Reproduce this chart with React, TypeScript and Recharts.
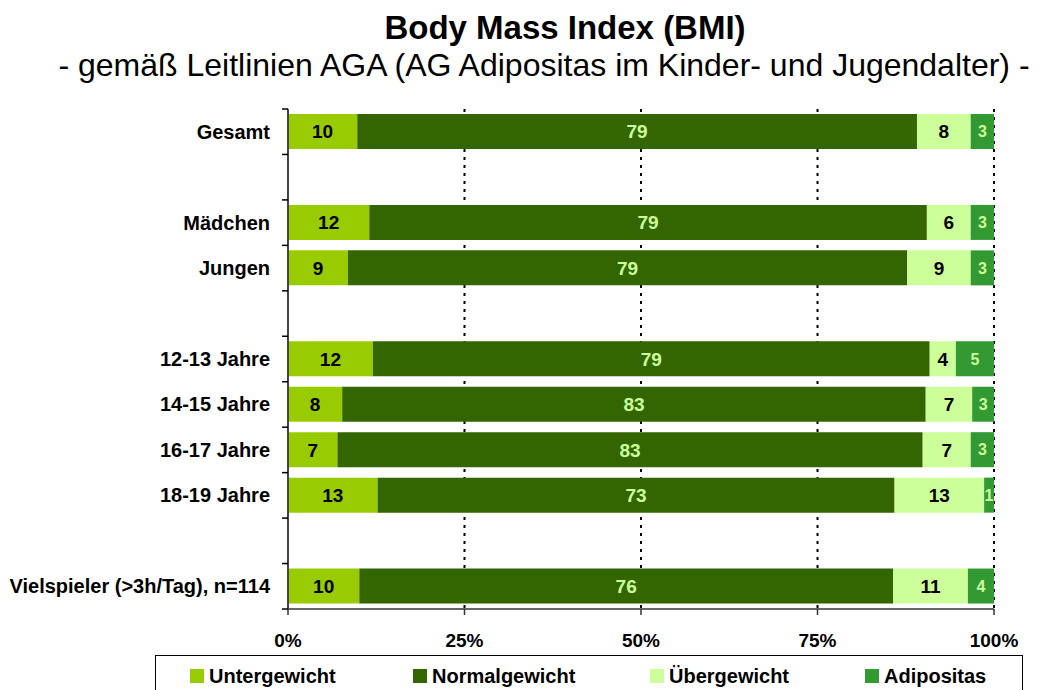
import {
  Bar,
  BarChart,
  CartesianGrid,
  LabelList,
  Legend,
  XAxis,
  YAxis,
} from "recharts";

const categories = [
  "Gesamt",
  "",
  "Mädchen",
  "Jungen",
  "",
  "12-13 Jahre",
  "14-15 Jahre",
  "16-17 Jahre",
  "18-19 Jahre",
  "",
  "Vielspieler (>3h/Tag), n=114",
];
const untergewicht = [9.8, 0, 11.5, 8.5, 0, 12.0, 7.7, 7.0, 12.7, 0, 10.1];
const normalgewicht = [79.2, 0, 78.9, 79.3, 0, 78.8, 82.9, 82.9, 73.3, 0, 75.6];
const uebergewicht = [7.6, 0, 6.2, 9.0, 0, 3.7, 6.6, 6.8, 12.7, 0, 10.6];
const adipositas = [3.3, 0, 3.3, 3.3, 0, 5.4, 3.1, 3.3, 1.4, 0, 3.7];
const xTicks = [0, 0.25, 0.5, 0.75, 1];

const data = categories.map((name, i) => ({
  name,
  untergewicht: untergewicht[i],
  normalgewicht: normalgewicht[i],
  uebergewicht: uebergewicht[i],
  adipositas: adipositas[i],
}));

const FONT = "'Liberation Sans', Arial, sans-serif";
const W = 1042;
const H = 690;
const MARGIN = { top: 109, right: 48, bottom: 41, left: 0 };
const X_AXIS_H = 40;
const PLOT_H = H - MARGIN.top - MARGIN.bottom - X_AXIS_H;
const HALF_BAND = PLOT_H / categories.length / 2;

const series = [
  { key: "untergewicht", name: "Untergewicht", fill: "#99CC00", text: "#000000", size: 19, legendW: 223 },
  { key: "normalgewicht", name: "Normalgewicht", fill: "#336600", text: "#CCFF99", size: 19, legendW: 237 },
  { key: "uebergewicht", name: "Übergewicht", fill: "#CCFF99", text: "#000000", size: 19, legendW: 215 },
  { key: "adipositas", name: "Adipositas", fill: "#339933", text: "#CCFF99", size: 16, legendW: 150 },
];

const makeLabel = (color: string, size: number) => (props: any) => {
  const vb = props.viewBox ?? props;
  const { value } = props;
  if (!value) return null;
  return (
    <text
      x={vb.x + vb.width / 2}
      y={vb.y + vb.height / 2}
      dy="0.36em"
      textAnchor="middle"
      fill={color}
      fontSize={size}
      fontWeight="bold"
      fontFamily={FONT}
    >
      {Math.round(value)}
    </text>
  );
};

const CategoryTick = (props: any) => {
  const { x, y, payload, index } = props;
  return (
    <g>
      <line x1={x - 6} x2={x} y1={y - HALF_BAND} y2={y - HALF_BAND} stroke="#000" strokeWidth={1.5} />
      {index === categories.length - 1 && (
        <line x1={x - 6} x2={x} y1={y + HALF_BAND} y2={y + HALF_BAND} stroke="#000" strokeWidth={1.5} />
      )}
      <text
        x={x - 18}
        y={y + 7}
        textAnchor="end"
        fill="#000"
        fontSize={20}
        fontWeight="bold"
        fontFamily={FONT}
      >
        {payload.value}
      </text>
    </g>
  );
};

const PercentTick = (props: any) => {
  const { x, y, payload } = props;
  return (
    <text
      x={x}
      y={y + 32}
      textAnchor="middle"
      fill="#000"
      fontSize={19}
      fontWeight="bold"
      fontFamily={FONT}
    >
      {`${Math.round(payload.value * 100)}%`}
    </text>
  );
};

// legend keeps the series order (recharts would sort it by name)
const renderLegend = () => (
  <div
    style={{
      boxSizing: "border-box",
      width: 868,
      height: 45,
      border: "1.5px solid #000",
      background: "#fff",
      display: "flex",
      alignItems: "flex-start",
      paddingLeft: 34,
      paddingTop: 11,
      fontFamily: FONT,
      fontWeight: "bold",
      fontSize: 20,
    }}
  >
    {series.map((s) => (
      <div
        key={s.key}
        style={{ display: "flex", alignItems: "center", width: s.legendW, flex: "none", lineHeight: "18px" }}
      >
        <span style={{ width: 14, height: 14, background: s.fill, marginRight: 5 }} />
        <span>{s.name}</span>
      </div>
    ))}
  </div>
);

export default function App() {
  return (
    <div style={{ position: "relative", width: W, height: H, overflow: "hidden", background: "#fff" }}>
      <style>{"body{margin:0}"}</style>
      <svg width={W} height={100} style={{ position: "absolute", left: 0, top: 0 }}>
        <text x={565} y={39} textAnchor="middle" fontSize={33} fontWeight="bold" fontFamily={FONT}>
          Body Mass Index (BMI)
        </text>
        <text x={544} y={76} textAnchor="middle" fontSize={32} fontFamily={FONT}>
          - gemäß Leitlinien AGA (AG Adipositas im Kinder- und Jugendalter) -
        </text>
      </svg>
      <BarChart
        width={W}
        height={H}
        data={data}
        layout="vertical"
        stackOffset="expand"
        margin={MARGIN}
        style={{ position: "absolute", left: 0, top: 0 }}
      >
        <CartesianGrid horizontal={false} stroke="#000" strokeWidth={2} strokeDasharray="3 5" />
        <XAxis
          type="number"
          domain={[0, 1]}
          ticks={xTicks}
          height={X_AXIS_H}
          stroke="#333"
          strokeWidth={1.5}
          tickSize={6}
          tickMargin={0}
          tick={<PercentTick />}
          interval={0}
        />
        <YAxis
          type="category"
          dataKey="name"
          width={288}
          stroke="#444"
          strokeWidth={2}
          tickLine={false}
          tickSize={0}
          tickMargin={0}
          tick={<CategoryTick />}
          interval={0}
        />
        {series.map((s) => (
          <Bar
            key={s.key}
            dataKey={s.key}
            name={s.name}
            stackId="bmi"
            fill={s.fill}
            barSize={35}
            isAnimationActive={false}
          >
            <LabelList dataKey={s.key} content={makeLabel(s.text, s.size)} />
          </Bar>
        ))}
        <Legend
          layout="horizontal"
          verticalAlign="middle"
          align="center"
          content={renderLegend}
          wrapperStyle={{ left: 155, top: 655, width: 868, height: 45 }}
        />
      </BarChart>
    </div>
  );
}
